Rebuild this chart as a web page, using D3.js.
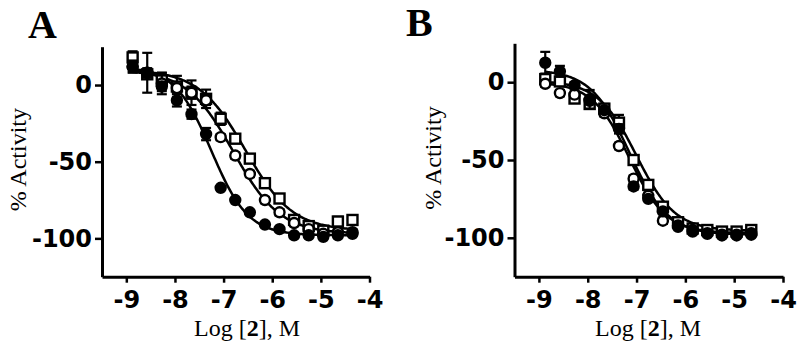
<!DOCTYPE html>
<html>
  <head>
    <meta charset="utf-8" />
    <title>Dose response</title>
    <script src="https://d3js.org/d3.v7.min.js"></script>
    <style>
      body {
        margin: 0;
        background-color: white;
      }
    </style>
  </head>
  <body>
    <svg id="chart"></svg>

    <script>

      // log concentrations (x) for each panel
      var logConcA = [-8.87, -8.57, -8.27, -7.96, -7.66, -7.36, -7.06, -6.76, -6.46, -6.15, -5.85, -5.55, -5.25, -4.95, -4.65, -4.35];
      var logConcB = [-8.87, -8.57, -8.27, -7.96, -7.66, -7.36, -7.06, -6.76, -6.46, -6.15, -5.85, -5.55, -5.25, -4.95, -4.65];

      var xTicks = [-9, -8, -7, -6, -5, -4];
      var yTicks = [0, -50, -100];

      // panel A, % activity
      var aFilled    = [12, 8, -1, -10, -19, -32, -67, -75, -83, -91, -94, -98, -98, -99, -98, -97];
      var aFilledErr = [4, 3, 3, 4, 3, 4, 1, 1, 1, 1, 1, 1, 1, 1, 1, 1];
      var aOpen      = [12, 8, 1, -2, -5, -10, -34, -46, -58, -75, -83, -90, -94, -97, -96, -96];
      var aOpenErr   = [3, 13, 7, 3, 4, 3, 2, 2, 2, 2, 2, 2, 2, 2, 2, 2];
      var aSquare    = [18, 7, 3, -1, -5, -9, -22, -35, -48, -64, -74, -88, -92, -95, -89, -88];
      var aSquareErr = [4, 3, 5, 7, 8, 6, 4, 2, 2, 2, 2, 2, 2, 2, 3, 3];

      // panel B, % activity
      var bFilled    = [12.5, 7, -2, -11, -18, -30, -67, -75, -83, -92, -95, -97.5, -98.5, -98.5, -98];
      var bFilledErr = [7, 3.5, 2, 6, 2, 3, 2, 1, 1, 1, 1, 1, 1, 1, 1];
      var bOpen      = [-1, -7, -8, -12, -20, -41, -62, -73, -89, -93, -96, -97, -98, -98, -97];
      var bOpenErr   = [2, 2, 2, 2, 2, 2, 2, 2, 2, 1, 1, 1, 1, 1, 1];
      var bSquare    = [2, 0.5, -10.5, -14, -17, -26, -50, -66, -80, -90, -94, -95, -96, -96, -95];
      var bSquareErr = [2, 2, 2, 2, 3, 5, 3, 2, 2, 2, 1, 1, 1, 1, 1];

      // sigmoidal fits: top, bottom, logIC50, hill
      var aFits = {
        filled: [12, -98, -7.25, 1.15],
        open:   [10, -97, -6.8, 0.9],
        square: [10, -95, -6.55, 0.9]
      };
      var bFits = {
        filled: [8, -98, -7.15, 1.1],
        open:   [0, -97, -7.15, 1.15],
        square: [1, -95.5, -7.0, 1.1]
      };

      var width = 800;
      var height = 352;

      var svg = d3.select("#chart")
        .attr("width", width)
        .attr("height", height);

      function fitValue(p, x) {
        return p[1] + (p[0] - p[1]) / (1 + Math.pow(10, p[3] * (x - p[2])));
      }

      function drawPanel(opts) {
        var g = svg.append("g");

        var x = d3.scaleLinear()
          .domain([-9.5, -4])
          .range([opts.left, opts.right]);

        var y = d3.scaleLinear()
          .domain([-125, 25])
          .range([opts.bottom, opts.top]);

        // axes (plain hyphen for the minus sign, as in the figure)
        var xAxis = d3.axisBottom(x)
          .tickValues(xTicks)
          .tickSizeInner(6)
          .tickSizeOuter(0)
          .tickPadding(8)
          .tickFormat(function(d) { return String(d); });

        var yAxis = d3.axisLeft(y)
          .tickValues(yTicks)
          .tickSizeInner(7)
          .tickSizeOuter(0)
          .tickPadding(3)
          .tickFormat(function(d) { return String(d); });

        var gx = g.append("g")
          .attr("transform", "translate(0," + opts.bottom + ")")
          .call(xAxis);

        var gy = g.append("g")
          .attr("transform", "translate(" + opts.left + ",0)")
          .call(yAxis);

        [gx, gy].forEach(function(ax) {
          ax.select(".domain").attr("stroke", "black").attr("stroke-width", 3);
          ax.selectAll(".tick line").attr("stroke", "black").attr("stroke-width", 2.5);
          ax.selectAll(".tick text")
            .attr("font-family", "DejaVu Sans")
            .attr("font-weight", "bold")
            .attr("font-size", "24px")
            .attr("fill", "black");
        });

        // curves
        var line = d3.line()
          .x(function(d) { return x(d[0]); })
          .y(function(d) { return y(d[1]); });

        var xs = opts.conc;
        var samples = d3.range(xs[0], xs[xs.length - 1] + 0.001, 0.02);

        ["square", "open", "filled"].forEach(function(k) {
          var p = opts.fits[k];
          g.append("path")
            .datum(samples.map(function(v) { return [v, fitValue(p, v)]; }))
            .attr("fill", "none")
            .attr("stroke", "black")
            .attr("stroke-width", 2.5)
            .attr("d", line);
        });

        // series: error bars then markers
        opts.series.forEach(function(s) {
          var pts = xs.map(function(v, i) {
            return { x: v, y: s.values[i], e: s.err[i] };
          });

          var eb = g.append("g")
            .attr("stroke", "black")
            .attr("stroke-width", 2.2);

          eb.selectAll("line.bar")
            .data(pts)
            .enter().append("line")
            .attr("x1", function(d) { return x(d.x); })
            .attr("x2", function(d) { return x(d.x); })
            .attr("y1", function(d) { return y(d.y + d.e); })
            .attr("y2", function(d) { return y(d.y - d.e); });

          eb.selectAll("line.capTop")
            .data(pts)
            .enter().append("line")
            .attr("x1", function(d) { return x(d.x) - 5; })
            .attr("x2", function(d) { return x(d.x) + 5; })
            .attr("y1", function(d) { return y(d.y + d.e); })
            .attr("y2", function(d) { return y(d.y + d.e); });

          eb.selectAll("line.capBot")
            .data(pts)
            .enter().append("line")
            .attr("x1", function(d) { return x(d.x) - 5; })
            .attr("x2", function(d) { return x(d.x) + 5; })
            .attr("y1", function(d) { return y(d.y - d.e); })
            .attr("y2", function(d) { return y(d.y - d.e); });

          if (s.shape === "square") {
            g.append("g").selectAll("rect")
              .data(pts)
              .enter().append("rect")
              .attr("x", function(d) { return x(d.x) - 5; })
              .attr("y", function(d) { return y(d.y) - 5; })
              .attr("width", 10)
              .attr("height", 10)
              .attr("fill", "white")
              .attr("stroke", "black")
              .attr("stroke-width", 2.4);
          } else {
            g.append("g").selectAll("circle")
              .data(pts)
              .enter().append("circle")
              .attr("cx", function(d) { return x(d.x); })
              .attr("cy", function(d) { return y(d.y); })
              .attr("r", 5)
              .attr("fill", s.shape === "filled" ? "black" : "white")
              .attr("stroke", "black")
              .attr("stroke-width", 2.4);
          }
        });

        // labels
        g.append("text")
          .attr("x", opts.letterX)
          .attr("y", opts.letterY)
          .attr("font-family", "Liberation Serif")
          .attr("font-weight", "bold")
          .attr("font-size", "40px")
          .text(opts.letter);

        g.append("text")
          .attr("transform", "translate(" + opts.yLabelX + "," + ((opts.top + opts.bottom) / 2 - 2) + ") rotate(-90)")
          .attr("text-anchor", "middle")
          .attr("font-family", "Liberation Serif")
          .attr("font-size", "24px")
          .text("% Activity");

        var xl = g.append("text")
          .attr("x", opts.xLabelX)
          .attr("y", 336)
          .attr("text-anchor", "middle")
          .attr("font-family", "Liberation Serif")
          .attr("font-size", "24px");
        xl.append("tspan").text("Log [");
        xl.append("tspan").attr("font-weight", "bold").text("2");
        xl.append("tspan").text("], M");
      }

      drawPanel({
        left: 102, right: 369.5, top: 46.7, bottom: 276.7,
        conc: logConcA,
        fits: aFits,
        series: [
          { shape: "square", values: aSquare, err: aSquareErr },
          { shape: "open", values: aOpen, err: aOpenErr },
          { shape: "filled", values: aFilled, err: aFilledErr }
        ],
        letter: "A", letterX: 28, letterY: 38,
        yLabelX: 26, xLabelX: 247
      });

      drawPanel({
        left: 514.5, right: 783, top: 43.3, bottom: 276.7,
        conc: logConcB,
        fits: bFits,
        series: [
          { shape: "square", values: bSquare, err: bSquareErr },
          { shape: "open", values: bOpen, err: bOpenErr },
          { shape: "filled", values: bFilled, err: bFilledErr }
        ],
        letter: "B", letterX: 406, letterY: 36,
        yLabelX: 441, xLabelX: 648
      });

    </script>
  </body>
</html>
